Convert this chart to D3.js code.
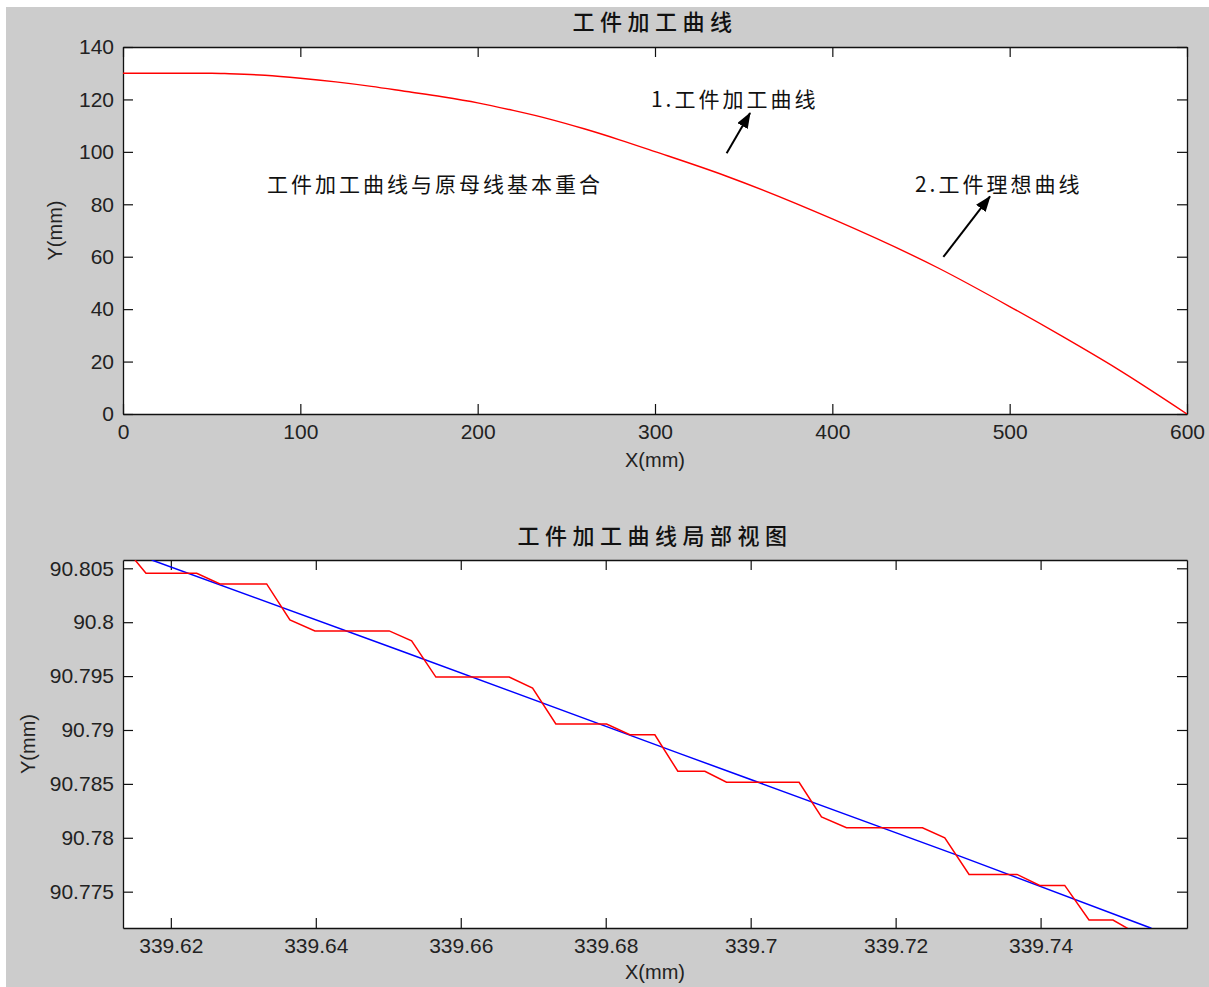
<!DOCTYPE html>
<html><head><meta charset="utf-8">
<script src="https://cdn.jsdelivr.net/npm/d3@7"></script>
<style>
html,body{margin:0;padding:0;background:#fff;}
svg{display:block;}
.tick text{font-family:"Liberation Sans",Arial,sans-serif;font-size:21px;fill:#222;}
.cjk{font-family:"Noto Sans CJK SC",sans-serif;fill:#111;}
.lab{font-family:"Liberation Sans",Arial,sans-serif;font-size:20px;fill:#222;}
</style></head>
<body>
<svg id="c" width="1209" height="987"></svg>
<script>
// ---------- data ----------
// Top chart: workpiece machined curve X(mm) vs Y(mm)
const topX = [0, 50, 60, 80, 100, 120, 140, 160, 180, 200, 220, 240, 260, 280, 300, 340, 400, 460, 500, 530, 560, 600];
const topY = [130, 130, 129.8, 129.2, 128.1, 126.7, 125.0, 123.0, 121.0, 118.7, 115.8, 112.6, 108.8, 104.6, 100.1, 90.8, 74.4, 55.6, 41.0, 29.5, 17.5, 0];
const topXTicks = [0, 100, 200, 300, 400, 500, 600];
const topYTicks = [0, 20, 40, 60, 80, 100, 120, 140];

// Bottom chart: local view, machined (red) vs ideal (blue)
const redX = [339.61506, 339.61657, 339.62357, 339.62678, 339.63322, 339.63643, 339.63988, 339.65013, 339.65322, 339.65657, 339.66668, 339.66991, 339.67312, 339.68012, 339.68333, 339.68678, 339.68995, 339.69368, 339.69667, 339.70668, 339.70977, 339.71322, 339.72370, 339.72678, 339.73013, 339.73675, 339.73988, 339.74333, 339.74668, 339.74999, 339.75206];
const redY = [90.80577, 90.80454, 90.80454, 90.80355, 90.80355, 90.80021, 90.79919, 90.79919, 90.79827, 90.79491, 90.79491, 90.79389, 90.79056, 90.79056, 90.78956, 90.78956, 90.78617, 90.78617, 90.78515, 90.78515, 90.78194, 90.78093, 90.78093, 90.78000, 90.77660, 90.77660, 90.77558, 90.77558, 90.77237, 90.77237, 90.77157];
const blueX = [339.61736, 339.65161, 339.69023, 339.72885, 339.75529];
const blueY = [90.80577, 90.79737, 90.78781, 90.77830, 90.77160];
const botXTicks = [339.62, 339.64, 339.66, 339.68, 339.70, 339.72, 339.74];
const botXLabels = ["339.62", "339.64", "339.66", "339.68", "339.7", "339.72", "339.74"];
const botYTicks = [90.775, 90.78, 90.785, 90.79, 90.795, 90.8, 90.805];
const botYLabels = ["90.775", "90.78", "90.785", "90.79", "90.795", "90.8", "90.805"];

const titles = ["工件加工曲线", "工件加工曲线局部视图"];
const notes = [
  {text: "1.工件加工曲线", x: 297.7, y: 119.9},
  {text: "工件加工曲线与原母线基本重合", x: 81.2, y: 87.4},
  {text: "2.工件理想曲线", x: 446.6, y: 87.4}
];
const arrows = [
  {x1: 340.4, y1: 99.5, x2: 353.6, y2: 114.8},
  {x1: 462.6, y1: 59.9, x2: 488.9, y2: 83.0}
];

// ---------- drawing ----------
const svg = d3.select("#c");
svg.append("rect").attr("x", 6).attr("y", 7).attr("width", 1203).attr("height", 980).attr("fill", "#cccccc");

const defs = svg.append("defs");
defs.append("marker").attr("id", "ah").attr("viewBox", "0 0 16 12")
  .attr("refX", 15).attr("refY", 6).attr("markerWidth", 16).attr("markerHeight", 12)
  .attr("markerUnits", "userSpaceOnUse").attr("orient", "auto")
  .append("path").attr("d", "M0,0 L16,6 L0,12 Z").attr("fill", "#000");

function panel(id, box, xDom, yDom, xTicks, xFmt, yTicks, yFmt) {
  const x = d3.scaleLinear().domain(xDom).range([box.l, box.r]);
  const y = d3.scaleLinear().domain(yDom).range([box.b, box.t]);
  svg.append("rect").attr("x", box.l).attr("y", box.t).attr("width", box.r - box.l).attr("height", box.b - box.t).attr("fill", "#fff");
  defs.append("clipPath").attr("id", id).append("rect")
    .attr("x", box.l).attr("y", box.t).attr("width", box.r - box.l).attr("height", box.b - box.t);
  const g = svg.append("g");
  const style = s => { s.select(".domain").attr("stroke", "#111").attr("stroke-width", 1.3); s.selectAll(".tick line").attr("stroke", "#111").attr("stroke-width", 1.2); };
  g.append("g").attr("transform", `translate(0,${box.b})`)
    .call(d3.axisBottom(x).tickValues(xTicks).tickFormat(xFmt).tickSizeInner(-10).tickSizeOuter(0).tickPadding(10)).call(style);
  g.append("g").attr("transform", `translate(0,${box.t})`)
    .call(d3.axisTop(x).tickValues(xTicks).tickFormat("").tickSizeInner(-10).tickSizeOuter(0)).call(style);
  g.append("g").attr("transform", `translate(${box.l},0)`)
    .call(d3.axisLeft(y).tickValues(yTicks).tickFormat(yFmt).tickSizeInner(-10).tickSizeOuter(0).tickPadding(9)).call(style);
  g.append("g").attr("transform", `translate(${box.r},0)`)
    .call(d3.axisRight(y).tickValues(yTicks).tickFormat("").tickSizeInner(-10).tickSizeOuter(0)).call(style);
  return {x, y};
}

// Top panel
const T = {l: 123, r: 1187, t: 47, b: 414};
const p1 = panel("clipTop", T, [0, 600], [0, 140], topXTicks, d3.format("d"), topYTicks, d3.format("d"));
const topData = topX.map((v, i) => [v, topY[i]]);
svg.append("path").attr("clip-path", "url(#clipTop)")
  .attr("d", d3.line().x(d => p1.x(d[0])).y(d => p1.y(d[1])).curve(d3.curveMonotoneX)(topData))
  .attr("fill", "none").attr("stroke", "#ff0000").attr("stroke-width", 1.4);

notes.forEach(n => {
  svg.append("text").attr("class", "cjk").attr("x", p1.x(n.x)).attr("y", p1.y(n.y))
    .attr("dy", "0.36em").attr("font-size", 21).attr("letter-spacing", 3).text(n.text);
});
arrows.forEach(a => {
  svg.append("line").attr("x1", p1.x(a.x1)).attr("y1", p1.y(a.y1)).attr("x2", p1.x(a.x2)).attr("y2", p1.y(a.y2))
    .attr("stroke", "#000").attr("stroke-width", 2).attr("marker-end", "url(#ah)");
});

svg.append("text").attr("class", "cjk").attr("x", (T.l + T.r) / 2).attr("y", 22).attr("dy", "0.36em")
  .attr("text-anchor", "middle").attr("font-size", 22).attr("font-weight", 500).attr("letter-spacing", 5.5).text(titles[0]);
svg.append("text").attr("class", "lab").attr("x", (T.l + T.r) / 2).attr("y", 460).attr("dy", "0.36em")
  .attr("text-anchor", "middle").text("X(mm)");
svg.append("text").attr("class", "lab").attr("transform", `translate(55,${(T.t + T.b) / 2}) rotate(-90)`)
  .attr("dy", "0.36em").attr("text-anchor", "middle").text("Y(mm)");

// Bottom panel
const B = {l: 123, r: 1187, t: 560, b: 928};
const p2 = panel("clipBot", B, [339.6134, 339.7602], [90.77163, 90.80577],
  botXTicks, (d, i) => botXLabels[i], botYTicks, (d, i) => botYLabels[i]);
const blueData = blueX.map((v, i) => [v, blueY[i]]);
const redData = redX.map((v, i) => [v, redY[i]]);
const ln2 = d3.line().x(d => p2.x(d[0])).y(d => p2.y(d[1]));
svg.append("path").attr("clip-path", "url(#clipBot)").attr("d", ln2(blueData))
  .attr("fill", "none").attr("stroke", "#0000ff").attr("stroke-width", 1.5);
svg.append("path").attr("clip-path", "url(#clipBot)").attr("d", ln2(redData))
  .attr("fill", "none").attr("stroke", "#ff0000").attr("stroke-width", 1.5);

svg.append("text").attr("class", "cjk").attr("x", (B.l + B.r) / 2).attr("y", 536).attr("dy", "0.36em")
  .attr("text-anchor", "middle").attr("font-size", 22).attr("font-weight", 500).attr("letter-spacing", 5.5).text(titles[1]);
svg.append("text").attr("class", "lab").attr("x", (B.l + B.r) / 2).attr("y", 972).attr("dy", "0.36em")
  .attr("text-anchor", "middle").text("X(mm)");
svg.append("text").attr("class", "lab").attr("transform", `translate(28,${(B.t + B.b) / 2}) rotate(-90)`)
  .attr("dy", "0.36em").attr("text-anchor", "middle").text("Y(mm)");
</script>
</body></html>
